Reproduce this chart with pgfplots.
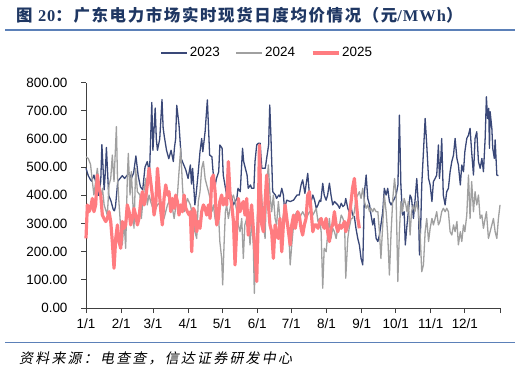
\documentclass[border=0pt]{standalone}
\usepackage{fontspec}
\setmainfont{Liberation Sans}
\newfontfamily\cjk[LetterSpace=10]{Noto Sans CJK SC}
\newfontfamily\cjkit[FakeSlant=0.2,LetterSpace=16]{Noto Sans CJK SC}
\newfontfamily\serifb[LetterSpace=6]{Liberation Serif}
\usepackage{pgfplots}
\pgfplotsset{compat=1.18}
\definecolor{c23}{HTML}{3A4878}
\definecolor{c24}{HTML}{A0A0A0}
\definecolor{c25}{HTML}{FF7C80}
\definecolor{titlec}{HTML}{1F3763}
\definecolor{rulec}{HTML}{5B80B8}
\begin{document}
\begin{tikzpicture}[x=1bp,y=1bp]
\path[use as bounding box, fill=white] (0,0) rectangle (522,373);
\draw[rulec, line width=1.5bp] (5,343) -- (515,343);
\draw[rulec, line width=1.5bp] (5,30.3) -- (515,30.3);
\node[anchor=west, text=titlec, font=\fontsize{16.5}{18}\selectfont\bfseries, inner sep=0] at (16,358) {\cjk 图 \serifb 20\cjk ：广东电力市场实时现货日度均价情况（元\serifb /MWh\cjk ）};
\node[anchor=west, font=\fontsize{14}{16}\selectfont, inner sep=0] at (19,15) {\cjkit 资料来源：电查查，信达证券研发中心};
\begin{axis}[
  at={(86bp,65bp)}, anchor=south west, scale only axis, width=414bp, height=225.3bp,
  xmin=0, xmax=365, ymin=0, ymax=800,
  axis x line*=bottom, axis y line*=left,
  axis line style={draw=black!75, line width=0.8bp, -},
  xtick={0,31,59,90,120,151,181,212,243,273,304,334,365},
  xticklabels={1/1,2/1,3/1,4/1,5/1,6/1,7/1,8/1,9/1,10/1,11/1,12/1,{}},
  ytick={0,100,...,800},
  tick align=outside, major tick length=5bp,
  tick style={draw=black!75, line width=0.8bp},
  ticklabel style={font=\fontsize{13.5}{15}\selectfont},
  yticklabel style={xshift=-10bp, /pgf/number format/.cd, fixed, fixed zerofill, precision=2, assume math mode=true},
  xticklabel style={yshift=-2bp},
  legend style={at={(0.438,1.132)}, anchor=center, draw=none, fill=none, legend columns=3,
    font=\fontsize{13.5}{15}\selectfont, /tikz/every even column/.append style={column sep=14bp}},
  legend image code/.code={\draw[#1] (0bp,0bp) -- (26bp,0bp);},
  clip=false,
]
\addplot[c23, line width=1.3bp, line join=round] coordinates {
(0,496)(2,470)(4,455)(5,450)(7,472)(9,440)(11,400)(13,450)(14,580)(16,420)(17,480)(18,570)(20,400)(22,380)(24,350)(25,345)(26,360)(28,450)(30,460)(32,470)(34,460)(36,470)(38,480)(40,460)(42,480)(44,540)(46,470)(48,430)(50,420)(52,500)(54,520)(56,480)(58,730)(59,560)(61,710)(62,600)(63,560)(65,600)(67,740)(68,640)(69,610)(71,560)(73,530)(75,560)(77,520)(78,570)(79,600)(80,720)(82,650)(84,530)(86,510)(88,490)(90,460)(92,508)(93,440)(94,496)(96,366)(97,400)(99,484)(100.5,555)(102,602)(103,555)(105,626)(107,739)(109,543)(111,537)(112,484)(114,437)(115,460)(117,484)(118,579)(120,567)(121,472)(124,401)(126,389)(128,401)(130,366)(133,389)(134,425)(136,413)(138,567)(139,520)(142,472)(143,425)(145,437)(146,425)(148,425)(149,520)(150.5,579)(152,585)(153.5,585)(155,496)(158,496)(161,579)(162,721)(163,614)(164.6,413)(167,401)(168,389)(170,401)(171,395)(172.6,425)(174,401)(175,354)(177,383)(180,378)(183,383)(186,401)(188,401)(189.6,437)(191,455)(193,407)(194,437)(195.5,478)(197,401)(198.5,378)(200,401)(201.5,383)(203,354)(204.5,366)(206,383)(207,378)(208.7,443)(210,401)(211.7,383)(213,401)(214.6,443)(216,401)(217.5,366)(219,378)(220.5,372)(222,366)(223.5,354)(225,372)(226.5,360)(228,366)(229,389)(230.8,354)(232,342)(233.7,360)(235,330)(236.6,324)(238,283)(239.6,247)(241,224)(242.5,176)(244,153)(245.5,413)(247,472)(248.4,389)(250,366)(251.3,330)(252.8,295)(254,318)(255.8,247)(257.3,236)(258.7,259)(260,295)(261.6,342)(263,425)(264.6,401)(266,425)(267.5,378)(269,366)(270.5,378)(272,389)(273.4,401)(275,437)(276.3,685)(277.6,437)(279,330)(280.5,342)(281.5,224)(283,295)(284.2,342)(285.7,401)(287,389)(288.7,318)(290,378)(291.6,460)(293,366)(294,188)(295.1,295)(296,437)(297.5,555)(299,673)(300.4,579)(302,460)(303.4,437)(305,378)(306.3,449)(307.8,460)(309.2,472)(310.7,579)(311.6,460)(312.7,520)(313.6,602)(315,401)(316.6,366)(318,413)(319.5,425)(321,484)(322.5,520)(324,543)(325.4,602)(327,531)(328.3,508)(330,437)(331.3,508)(332.8,484)(334,555)(335.7,602)(337.2,614)(338.6,638)(340,555)(341.6,472)(343,602)(344.5,626)(346,520)(347.5,496)(349,531)(350.4,484)(351.9,602)(353,750)(354,673)(355,709)(355.7,567)(356.3,697)(357.8,638)(358.6,567)(360,531)(360.7,597)(362.2,472)(363.6,470)
};
\addlegendentry{2023}
\addplot[c24, line width=1.3bp, line join=round] coordinates {
(0,537)(2,531)(4,510)(5.6,449)(7,401)(8.5,449)(10,496)(11.5,437)(13,389)(14.5,425)(16,366)(18.8,330)(20.3,437)(21.8,460)(23.2,543)(24.7,449)(26.8,644)(27.7,472)(29,378)(30.6,283)(32,224)(33.5,307)(35,212)(36.4,460)(37.3,549)(38.8,401)(40,484)(41,401)(42.3,283)(43.8,496)(45.3,413)(47.6,401)(48.8,318)(50.6,401)(52.6,460)(54,366)(55.6,401)(57,378)(60,342)(63,366)(66,378)(67.3,342)(68.8,318)(71.8,366)(74.7,389)(77.7,318)(80.6,401)(82,484)(83.5,567)(85,437)(86.5,342)(89.4,389)(92,366)(94.6,318)(96,271)(97.6,247)(99,378)(100.5,413)(102,496)(103.5,520)(105,460)(106.4,437)(108,413)(109.4,389)(111,342)(112.3,366)(113.8,318)(115.2,295)(116.7,342)(118,236)(119.6,176)(120.5,82)(121.7,224)(122.9,342)(124,366)(125.5,318)(127,354)(128.5,389)(130,401)(131.4,378)(133,342)(134.3,295)(135.8,271)(137.3,318)(138.7,176)(140,295)(141.7,318)(143,330)(144.6,224)(146,307)(147.5,224)(148.4,52)(149.6,200)(150.5,271)(152,401)(153.5,484)(155,389)(156.4,295)(157.9,247)(159.3,437)(160.8,508)(162.2,401)(163.7,342)(165.2,401)(166.7,318)(168,295)(169.6,378)(171,318)(172.6,283)(174,330)(175.5,342)(177,318)(178.5,295)(180,153)(181.4,224)(183,295)(184.4,330)(186,342)(188,318)(191,342)(194,318)(197,342)(200,330)(203,354)(204.5,307)(206,318)(207.3,271)(208.7,70)(210,212)(211.7,200)(213,259)(214.6,318)(216,247)(217.5,283)(219,271)(220.5,247)(222,283)(223.5,295)(225,330)(226.5,318)(228,295)(229,106)(230.8,247)(232,283)(233.7,318)(235,318)(236.6,342)(238,389)(239.6,401)(241,413)(242.5,389)(244,425)(245.5,378)(247,354)(248.4,366)(250,342)(251.3,354)(252.8,342)(254,354)(255.8,342)(257.3,342)(258.7,271)(260,176)(261.6,295)(263,401)(264.6,342)(266,259)(267.5,117)(269,271)(270.5,389)(272,460)(273.4,401)(274.9,94)(276.3,271)(277.6,378)(279,342)(280.5,389)(282,366)(283,342)(284.2,378)(285.7,259)(287,342)(288.7,366)(290,342)(291.6,378)(293,342)(294.5,271)(296,129)(297.5,153)(299,271)(300.4,318)(302,236)(303.4,283)(305,318)(306.3,295)(307.8,318)(309.2,342)(310.7,295)(312,307)(313.6,342)(315,354)(316.6,342)(318,354)(319.5,342)(321,271)(322.5,259)(324,295)(325.4,271)(327,307)(328.3,224)(330,271)(331.3,236)(332.8,295)(334,271)(335.7,330)(337.2,472)(338.6,318)(340,449)(341.6,342)(343,413)(344.5,366)(346,401)(347.5,318)(349,330)(350.4,283)(351.9,318)(353,342)(354.8,247)(356.3,271)(357.8,295)(359.2,318)(360.7,271)(362.2,247)(363.6,318)(365,366)
};
\addlegendentry{2024}
\addplot[c25, line width=3.2bp, line join=round] coordinates {
(0,247)(1.2,366)(2.6,342)(4,354)(5.6,389)(7,342)(8.5,366)(10,472)(11.5,425)(13,401)(14.4,330)(15.9,318)(17.4,307)(18.8,318)(20.3,342)(21.8,307)(23.2,236)(24.7,141)(26.2,247)(27.7,295)(29.1,236)(30.6,212)(32,307)(33.5,283)(35,295)(36.4,366)(38,342)(39.4,295)(40.9,318)(42.3,354)(43.8,330)(45.3,295)(46.7,318)(48.2,378)(49.7,413)(51.2,366)(52.6,389)(54,437)(55.6,496)(57,449)(58.5,401)(60,330)(61.5,366)(63,496)(64.4,425)(66,342)(67.3,295)(68.8,389)(70.3,437)(71.8,401)(73.2,413)(74.7,342)(76.2,389)(77.7,354)(79.1,401)(80.6,378)(82,330)(83.5,366)(85,342)(86.5,401)(88,354)(89.4,342)(91,330)(92,342)(93.2,200)(94.6,354)(96,342)(97.6,271)(99,307)(100.5,283)(102,342)(103.5,366)(105,354)(106.4,330)(108,366)(109.4,318)(110.8,460)(112.3,472)(113.8,413)(115.2,295)(116.7,318)(118,378)(119.6,401)(121,366)(122.5,389)(124,366)(125.5,520)(127,401)(128.5,366)(130,307)(131.4,153)(133,295)(134.3,389)(135.8,342)(137.3,366)(138.7,378)(140.2,330)(141.7,389)(143,259)(144.6,318)(146,366)(147.5,283)(149,200)(150.5,94)(152,342)(152.9,579)(154,401)(155,295)(156.4,271)(157.9,378)(159.3,472)(160.8,366)(162.2,295)(163.7,271)(165.2,176)(166.7,295)(168,259)(169.6,247)(171,318)(172.6,200)(174,295)(175.5,366)(177,318)(178.5,271)(180,224)(181.4,295)(183,330)(184.4,283)(185,295)(186.6,342)(188,330)(189.6,283)(191,259)(192.5,295)(194,318)(195.5,401)(197,413)(198.5,342)(200,271)(201.5,295)(203,295)(204.5,283)(206,307)(207.3,318)(208.7,295)(210,283)(211.7,318)(213,271)(214.6,236)(216,283)(217.5,295)(219,342)(220.5,295)(222,271)(223.5,295)(225,283)(226.5,295)(228,307)(229,271)(230.8,295)(232,318)(233.7,378)(235,425)(236.6,460)(238,389)(239.6,318)(241,283)
};
\addlegendentry{2025}
\end{axis}
\end{tikzpicture}
\end{document}
